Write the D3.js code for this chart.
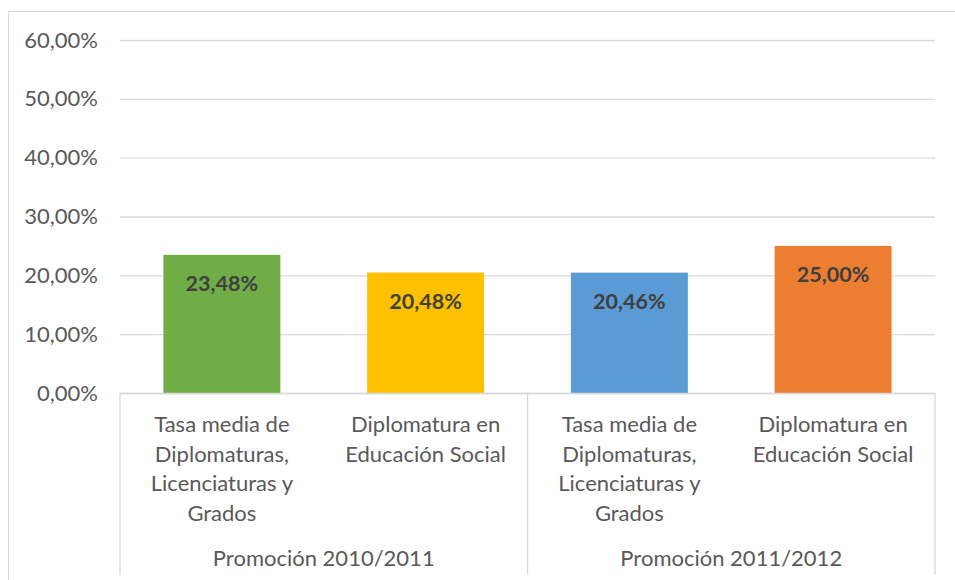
<!DOCTYPE html>
<html>
<head>
<meta charset="utf-8">
<script src="https://cdn.jsdelivr.net/npm/d3@7"></script>
<style>
  body { margin: 0; background: #fff; }
  svg { display: block; font-family: Lato, "Open Sans", sans-serif; }
</style>
</head>
<body>
<svg id="chart" width="955" height="580"></svg>
<script>
// Data
var groups = ["Promoción 2010/2011", "Promoción 2011/2012"];
var categories = [
  ["Tasa media de", "Diplomaturas,", "Licenciaturas y", "Grados"],
  ["Diplomatura en", "Educación Social"],
  ["Tasa media de", "Diplomaturas,", "Licenciaturas y", "Grados"],
  ["Diplomatura en", "Educación Social"]
];
var values = [0.2348, 0.2048, 0.2046, 0.25];
var valueLabels = ["23,48%", "20,48%", "20,46%", "25,00%"];
var barColors = ["#70AD47", "#FFC000", "#5B9BD5", "#ED7D31"];
var yTicks = [0, 0.1, 0.2, 0.3, 0.4, 0.5, 0.6];

function drawChart() {
  var svg = d3.select("#chart");
  var left = 120, right = 935, plotTop = 40, plotBottom = 393;
  var gridColor = "#d9d9d9", textColor = "#595959";

  // outer chart border (cropped on the right and bottom)
  svg.append("rect")
    .attr("x", 8.5).attr("y", 11.5)
    .attr("width", 1000).attr("height", 1000)
    .attr("fill", "none").attr("stroke", gridColor);

  var y = d3.scaleLinear().domain([0, 0.6]).range([plotBottom, plotTop]);
  var x = d3.scaleBand().domain(d3.range(values.length))
    .range([left, right]).paddingInner(0.426).paddingOuter(0.213);
  var xg = d3.scaleBand().domain(d3.range(groups.length)).range([left, right]);

  var fmt = function(d) { return (d * 100).toFixed(2).replace(".", ",") + "%"; };

  // y axis with gridlines
  var yAxis = svg.append("g")
    .attr("transform", "translate(" + left + ",0)")
    .call(d3.axisLeft(y).tickValues(yTicks).tickFormat(fmt)
      .tickSize(-(right - left)).tickPadding(22));
  yAxis.select(".domain").remove();
  yAxis.selectAll(".tick line").attr("stroke", gridColor).attr("stroke-width", 1.3);
  yAxis.selectAll(".tick text")
    .attr("fill", textColor).style("font-size", "22px")
    .style("font-family", "Lato, sans-serif");

  // bars
  svg.selectAll("rect.bar").data(values).enter().append("rect")
    .attr("class", "bar")
    .attr("x", function(d, i) { return x(i); })
    .attr("y", function(d) { return y(d); })
    .attr("width", x.bandwidth())
    .attr("height", function(d) { return plotBottom - y(d); })
    .attr("fill", function(d, i) { return barColors[i]; });

  // value labels
  svg.selectAll("text.val").data(values).enter().append("text")
    .attr("class", "val")
    .attr("x", function(d, i) { return x(i) + x.bandwidth() / 2; })
    .attr("y", function(d) { return y(d) + 36; })
    .attr("text-anchor", "middle")
    .attr("fill", "#404040")
    .style("font-size", "21.5px").style("font-weight", "bold")
    .text(function(d, i) { return valueLabels[i]; });

  // category axis
  svg.append("line")
    .attr("x1", left).attr("x2", right).attr("y1", plotBottom + 0.5).attr("y2", plotBottom + 0.5)
    .attr("stroke", gridColor).attr("stroke-width", 1.3);
  var seps = xg.domain().map(function(g) { return xg(g); }).concat([right]);
  svg.selectAll("line.sep").data(seps).enter().append("line")
    .attr("class", "sep")
    .attr("x1", function(d) { return d; }).attr("x2", function(d) { return d; })
    .attr("y1", plotBottom).attr("y2", 575)
    .attr("stroke", gridColor).attr("stroke-width", 1.3);

  var cat = svg.selectAll("text.cat").data(categories).enter().append("text")
    .attr("class", "cat")
    .attr("text-anchor", "middle")
    .attr("fill", textColor)
    .style("font-size", "22px");
  cat.each(function(lines, i) {
    var cx = x(i) + x.bandwidth() / 2;
    d3.select(this).selectAll("tspan").data(lines).enter().append("tspan")
      .attr("x", cx)
      .attr("y", function(d, j) { return 432 + j * 29.5; })
      .text(function(d) { return d; });
  });

  svg.selectAll("text.grp").data(groups).enter().append("text")
    .attr("class", "grp")
    .attr("x", function(d, i) { return xg(i) + xg.bandwidth() / 2; })
    .attr("y", 566)
    .attr("text-anchor", "middle")
    .attr("fill", textColor)
    .style("font-size", "22px")
    .text(function(d) { return d; });
}

drawChart();
</script>
</body>
</html>
